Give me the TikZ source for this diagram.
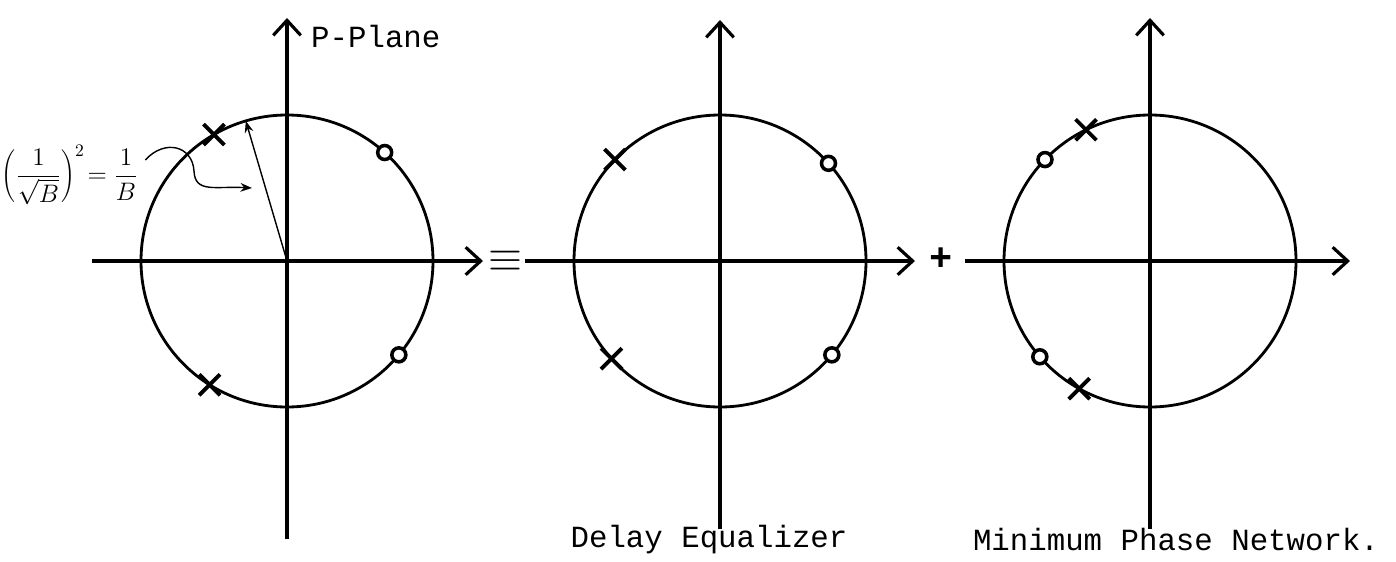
\documentclass[tikz,border=0pt]{standalone}
\usepackage{fontspec}
\setmonofont{Liberation Mono}
\usetikzlibrary{arrows.meta,shapes.misc}
\tikzset{>=Stealth,every node/.style={font=\ttfamily\fontsize{17.5}{20}\selectfont},
axis/.style={line width=1.8pt,-{Straight Barb[length=3mm,width=5.5mm,line width=1.8pt]}},
unitc/.style={line width=1.6pt},
polemark/.style={cross out,draw,line width=2.2pt,minimum size=3.4mm,inner sep=0pt},
zeromark/.style={circle,draw,line width=2pt,fill=white,minimum size=2.8mm,inner sep=0pt}}

\begin{document}
\begin{tikzpicture}
\useasboundingbox (0,0) rectangle (27.92,11.22);
\coordinate (o1) at (5.74,6);\coordinate (o2) at (14.4,6);\coordinate (o3) at (23,6);
% P-plane
\draw[axis] (1.84,6)--(9.66,6);\draw[axis] (5.74,0.45)--(5.74,10.86);
\draw[unitc] (o1) circle (2.92);
\node[polemark] (x1a) at ([shift={(120:2.92)}]o1){};\node[polemark] (x1b) at ([shift={(-122:2.92)}]o1){};
\node[zeromark] (z1a) at ([shift={(48:2.92)}]o1){};\node[zeromark] (z1b) at ([shift={(-40:2.92)}]o1){};
\coordinate (rtip) at ([shift={(106.4:2.92)}]o1);
\draw[thick,->] (o1)--(rtip);
\node[right] (pp) at (6.1,10.48){P-Plane};
\node[inner sep=1pt] (lbl) at (1.4,7.72){\fontsize{14.5}{17}\selectfont$\displaystyle\left(\frac{1}{\sqrt{B}}\right)^{2}\!=\frac{1}{B}$};
\coordinate (ltip) at (5.04,7.46);
\draw[thick,->] ([shift={(0.1,0.3)}]lbl.east) .. controls (3.3,8.45) and (3.85,8.3) .. (3.88,7.8) .. controls (3.9,7.35) and (4.3,7.5) .. (ltip);
\node (eqv) at (10.1,6){\fontsize{24}{26}\selectfont$\equiv$};
% delay equalizer
\draw[axis] (10.5,6)--(18.3,6);\draw[axis] (14.4,0.65)--(14.4,10.82);
\draw[unitc] (o2) circle (2.92);
\node[polemark] (x2a) at ([shift={(136:2.92)}]o2){};\node[polemark] (x2b) at ([shift={(-138:2.92)}]o2){};
\node[zeromark] (z2a) at ([shift={(42:2.92)}]o2){};\node[zeromark] (z2b) at ([shift={(-40:2.92)}]o2){};
\node (de) at (14.18,0.42){Delay Equalizer};
\node (plus) at (18.82,6.04){\fontsize{22}{24}\selectfont\textbf{+}};
% minimum phase network
\draw[axis] (19.3,6)--(27,6);\draw[axis] (23,0.65)--(23,10.86);
\draw[unitc] (o3) circle (2.92);
\node[polemark] (x3a) at ([shift={(116:2.92)}]o3){};\node[polemark] (x3b) at ([shift={(-119:2.92)}]o3){};
\node[zeromark] (z3a) at ([shift={(136:2.92)}]o3){};\node[zeromark] (z3b) at ([shift={(-139:2.92)}]o3){};
\node (mp) at (23.52,0.42){Minimum Phase Network.};
\end{tikzpicture}
\end{document}
